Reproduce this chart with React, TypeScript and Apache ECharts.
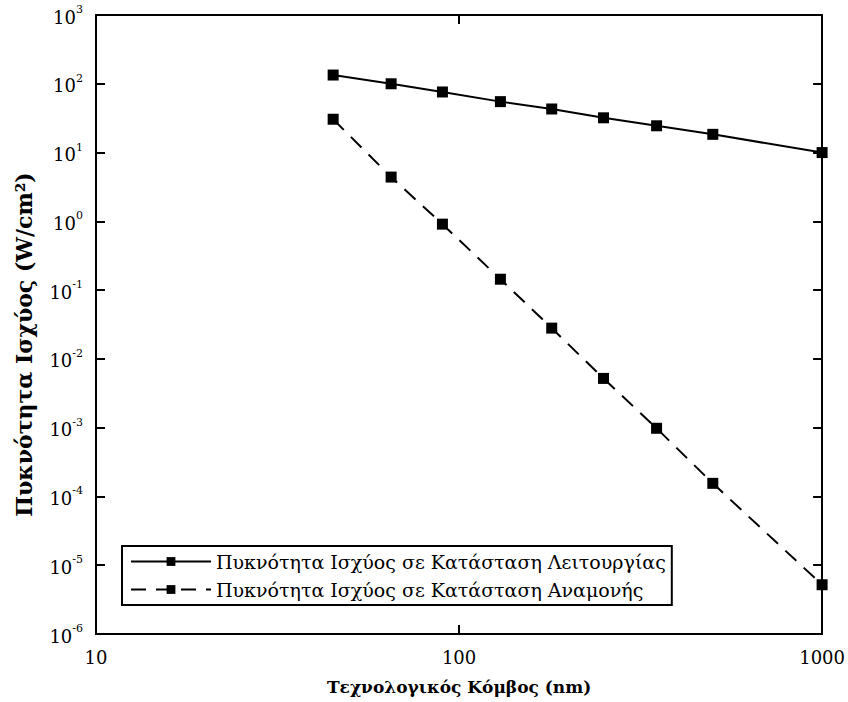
import React, { useEffect, useRef } from "react";
import * as echarts from "echarts";

// Technology node (nm) on the x axis
const nodes = [45, 65, 90, 130, 180, 250, 350, 500, 1000];
// Power density while operating (W/cm²)
const activeDensity = [134, 100, 76, 55, 43, 32, 24.5, 18.4, 10];
// Power density in standby (W/cm²)
const standbyDensity = [30.5, 4.4, 0.91, 0.144, 0.028, 0.0052, 0.00098, 0.000155, 0.0000052];

const xTickLabels = ["10", "100", "1000"];
const yTickExponents = [-6, -5, -4, -3, -2, -1, 0, 1, 2, 3];

const seriesNames = [
  "Πυκνότητα Ισχύος σε Κατάσταση Λειτουργίας",
  "Πυκνότητα Ισχύος σε Κατάσταση Αναμονής",
];

const FONT = "'DejaVu Serif', 'Liberation Serif', serif";

export default function App() {
  const ref = useRef<HTMLDivElement>(null);

  useEffect(() => {
    if (!ref.current) return;
    const chart = echarts.init(ref.current, null, { renderer: "svg" });

    const frame = { lineStyle: { color: "#000", width: 2 } };
    const inTicks = { show: true, inside: true, length: 9, lineStyle: { color: "#000", width: 2 } };

    chart.setOption({
      animation: false,
      backgroundColor: "#fff",
      textStyle: { fontFamily: FONT, color: "#000" },
      grid: { left: 96, right: 21, top: 15, bottom: 68 },
      legend: {
        left: 122,
        top: 546,
        orient: "vertical",
        borderColor: "#000",
        borderWidth: 2,
        padding: [6, 6, 6, 8],
        itemWidth: 80,
        itemHeight: 11,
        itemGap: 9,
        textStyle: { fontFamily: FONT, fontSize: 19, color: "#000" },
        data: seriesNames,
      },
      xAxis: [
        {
          type: "log",
          logBase: 10,
          min: 10,
          max: 1000,
          position: "bottom",
          name: "Τεχνολογικός Κόμβος (nm)",
          nameLocation: "middle",
          nameGap: 44,
          nameTextStyle: { fontFamily: FONT, fontSize: 17, fontWeight: "bold", color: "#000" },
          axisLine: frame,
          axisTick: inTicks,
          minorTick: { show: false },
          splitLine: { show: false },
          axisLabel: {
            margin: 14,
            fontSize: 18,
            fontFamily: FONT,
            color: "#000",
            formatter: (v: number) => xTickLabels[Math.round(Math.log10(v)) - 1] ?? "",
          },
        },
        {
          type: "log",
          logBase: 10,
          min: 10,
          max: 1000,
          position: "top",
          axisLine: frame,
          axisTick: inTicks,
          splitLine: { show: false },
          axisLabel: { show: false },
        },
      ],
      yAxis: [
        {
          type: "log",
          logBase: 10,
          min: 1e-6,
          max: 1e3,
          position: "left",
          name: "Πυκνότητα Ισχύος (W/cm²)",
          nameLocation: "middle",
          nameGap: 61,
          nameTextStyle: {
            fontFamily: FONT,
            fontSize: 22,
            fontWeight: "bold",
            color: "#000",
            padding: [0, 40, 0, 0],
          },
          axisLine: frame,
          axisTick: inTicks,
          splitLine: { show: false },
          axisLabel: {
            margin: 13,
            fontFamily: FONT,
            color: "#000",
            formatter: (v: number) => {
              const e = Math.round(Math.log10(v));
              return yTickExponents.includes(e) ? `{b|10}{sup|${e}}` : "";
            },
            rich: {
              b: { fontSize: 18, fontFamily: FONT, color: "#000", lineHeight: 22, verticalAlign: "bottom" },
              sup: { fontSize: 11, fontFamily: FONT, color: "#000", lineHeight: 22, verticalAlign: "top" },
            },
          },
        },
        {
          type: "log",
          logBase: 10,
          min: 1e-6,
          max: 1e3,
          position: "right",
          axisLine: frame,
          axisTick: inTicks,
          splitLine: { show: false },
          axisLabel: { show: false },
        },
      ],
      series: [
        {
          name: seriesNames[0],
          type: "line",
          data: nodes.map((n, i) => [n, activeDensity[i]]),
          symbol: "rect",
          symbolSize: 11,
          itemStyle: { color: "#000" },
          lineStyle: { color: "#000", width: 2, type: "solid" },
          z: 5,
        },
        {
          name: seriesNames[1],
          type: "line",
          data: nodes.map((n, i) => [n, standbyDensity[i]]),
          symbol: "rect",
          symbolSize: 11,
          itemStyle: { color: "#000" },
          lineStyle: { color: "#000", width: 2, type: [15, 10] },
          z: 5,
        },
      ],
    });

    return () => chart.dispose();
  }, []);

  return (
    <div
      ref={ref}
      style={{ position: "fixed", left: 0, top: 0, width: 848, height: 702, background: "#fff" }}
    />
  );
}
